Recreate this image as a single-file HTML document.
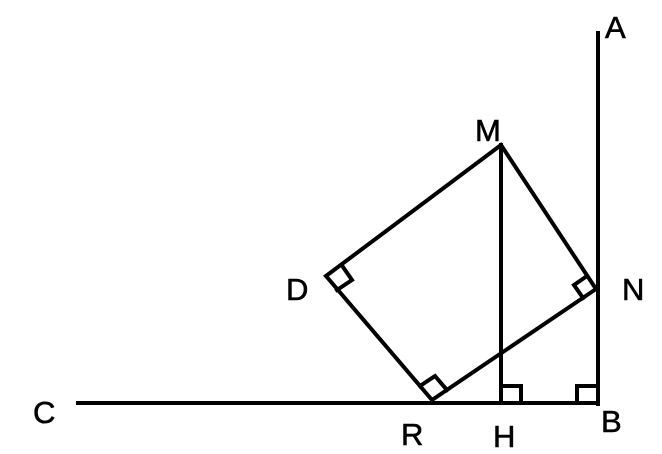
<!DOCTYPE html>
<html><head><meta charset="utf-8"><style>
html,body{margin:0;padding:0;background:#fff;}
svg{display:block;}
text{font-family:"Liberation Sans",sans-serif;font-size:31px;fill:#000;stroke:#000;stroke-width:0.6px;}
</style></head><body>
<svg width="662" height="454" viewBox="0 0 662 454" xmlns="http://www.w3.org/2000/svg">
<g stroke="#000" stroke-width="4" fill="none" stroke-linejoin="miter" stroke-linecap="square">
<line x1="78" y1="403" x2="598" y2="403"/>
<line x1="598" y1="33" x2="598" y2="404"/>
<line x1="501" y1="145" x2="501" y2="403"/>
<polygon points="501,145 596,289 432,400 326,276"/>
<polyline points="343,267 352,280 337,290"/>
<polyline points="587,276 574,285 583,298"/>
<polyline points="420,386 435,376 447,390"/>
<polyline points="501,386 521,386 521,403"/>
<polyline points="577,403 577,386 598,386"/>
</g>
<text x="605" y="38">A</text>
<text x="475" y="141">M</text>
<text x="286" y="300">D</text>
<text x="622" y="300">N</text>
<text x="33" y="423">C</text>
<text x="401" y="445">R</text>
<text x="493" y="447">H</text>
<text x="601" y="432">B</text>
</svg>
</body></html>
